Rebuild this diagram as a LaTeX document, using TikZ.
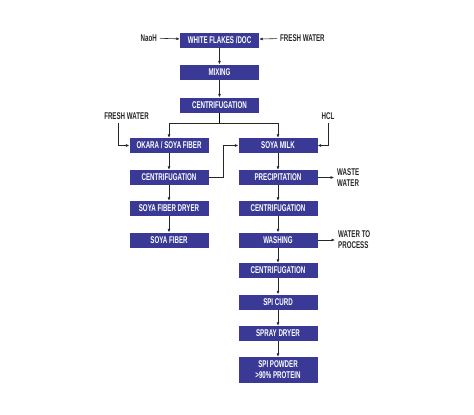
\documentclass[tikz,border=0pt]{standalone}
\usepackage{fontspec}
\setmainfont{Liberation Sans}[FakeStretch=0.63]
\usepackage{xcolor}
\usetikzlibrary{arrows.meta, positioning}
\definecolor{procblue}{RGB}{58,58,150}

\begin{document}
\begin{tikzpicture}[
      x=1pt, y=-1pt,
      every node/.style={font=\bfseries\fontsize{9.8}{11}\selectfont},
      proc/.style={rectangle, fill=procblue, text=white, inner sep=0pt,
                   minimum width=79pt, minimum height=15pt, align=center},
      lbl/.style={text=black!85, inner sep=3pt, align=left},
      flow/.style={-{Latex[length=3.5pt, width=3pt]}, line width=0.6pt, black!85}
    ]
      \useasboundingbox (0,0) rectangle (474,415);

      % main column
      \node[proc] (flakes) at (219.5,40) {WHITE FLAKES /DOC};
      \node[proc] (mixing) at (219.5,72) {MIXING};
      \node[proc] (centA) at (219.5,105) {CENTRIFUGATION};

      % fiber branch
      \node[proc] (okara) at (169,145.5) {OKARA / SOYA FIBER};
      \node[proc] (centB) at (169,177.5) {CENTRIFUGATION};
      \node[proc] (dryer) at (169,208.5) {SOYA FIBER DRYER};
      \node[proc] (fiber) at (169,240) {SOYA FIBER};

      % protein branch
      \node[proc] (milk) at (278,145.5) {SOYA MILK};
      \node[proc] (precip) at (278,177.5) {PRECIPITATION};
      \node[proc] (centC) at (278,208.5) {CENTRIFUGATION};
      \node[proc] (washing) at (278,240) {WASHING};
      \node[proc] (centD) at (278,270.5) {CENTRIFUGATION};
      \node[proc] (curd) at (278,302) {SPI CURD};
      \node[proc] (spray) at (278,333.5) {SPRAY DRYER};
      \node[proc, minimum height=26pt] (powder) at (278,370) {SPI POWDER\\>90\% PROTEIN};

      % inputs and outputs
      \node[lbl, anchor=east] (naoh) at (160,38) {NaoH};
      \node[lbl, anchor=west] (waterA) at (277,38) {FRESH WATER};
      \node[lbl] (waterB) at (126.5,116) {FRESH WATER};
      \node[lbl] (hcl) at (328,116) {HCL};
      \node[lbl, anchor=west] (waste) at (334,177.5) {WASTE\\WATER};
      \node[lbl, anchor=west] (process) at (335,240) {WATER TO\\PROCESS};

      \draw[flow] (naoh) -- (flakes);
      \draw[flow] (waterA) -- (flakes);
      \draw[flow] (flakes) -- (mixing);
      \draw[flow] (mixing) -- (centA);
      \draw (centA.south) -- ++(0,11) coordinate (split);
      \draw[flow] (split) -| (okara.north);
      \draw[flow] (split) -| (milk.north);
      \draw[flow] ([xshift=-8.5pt]waterB.south) |- (okara.west);
      \draw[flow] (hcl.south) |- (milk.east);
      \draw[flow] (okara) -- (centB);
      \draw[flow] (centB.east) -- ++(15,0) |- (milk.west);
      \draw[flow] (centB) -- (dryer);
      \draw[flow] (dryer) -- (fiber);
      \draw[flow] (milk) -- (precip);
      \draw[flow] (precip) -- (waste);
      \draw[flow] (precip) -- (centC);
      \draw[flow] (centC) -- (washing);
      \draw[flow] (washing) -- (process);
      \draw[flow] (washing) -- (centD);
      \draw[flow] (centD) -- (curd);
      \draw[flow] (curd) -- (spray);
      \draw[flow] (spray) -- (powder);
    \end{tikzpicture}
\end{document}
